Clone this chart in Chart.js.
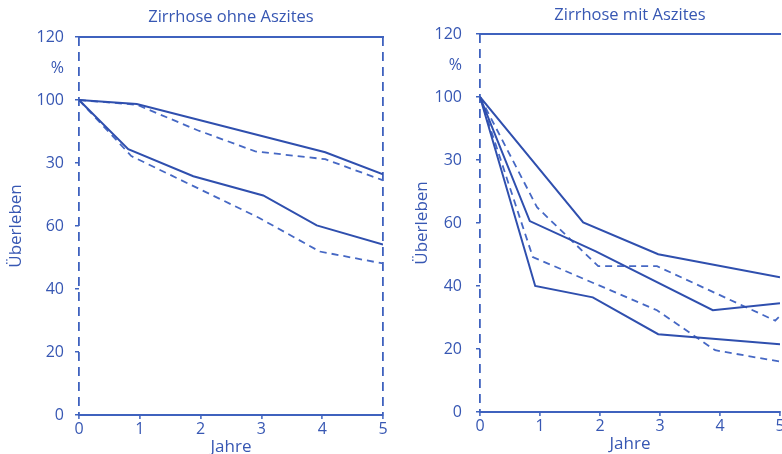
<!DOCTYPE html>
<html>
<head>
<meta charset="utf-8">
<script src="https://cdn.jsdelivr.net/npm/chart.js@4/dist/chart.umd.min.js"></script>
<style>
  html, body { margin: 0; padding: 0; background: #fff; overflow: hidden; }
  body { width: 782px; height: 454px; position: relative; }
  .panel { position: absolute; top: 0; height: 454px; }
  #leftWrap { left: 0; width: 390px; }
  #rightWrap { left: 390px; width: 392px; }
</style>
</head>
<body>
<div class="panel" id="leftWrap"><canvas id="left"></canvas></div>
<div class="panel" id="rightWrap"><canvas id="right"></canvas></div>
<script>
// ---- Data ----
const titleLeft = 'Zirrhose ohne Aszites';
const titleRight = 'Zirrhose mit Aszites';
const xTitle = 'Jahre';
const yTitle = 'Überleben';
const yTickValues = [0, 20, 40, 60, 80, 100, 110, 120];
const yTickLabels = ['0', '20', '40', '60', '30', '100', '%', '120'];
const xTickValues = [0, 1, 2, 3, 4, 5];

// Left panel: Zirrhose ohne Aszites
const leftSolidA_x  = [0, 0.95, 4.05, 5];
const leftSolidA_y  = [100, 98.7, 83.4, 76.4];
const leftDashedA_x = [0, 0.95, 1.95, 2.9, 4.05, 5];
const leftDashedA_y = [100, 98.5, 90.4, 83.7, 81.2, 74.5];
const leftSolidB_x  = [0, 0.81, 1.88, 3.03, 3.91, 5];
const leftSolidB_y  = [100, 84.4, 75.8, 69.7, 60.2, 54.1];
const leftDashedB_x = [0, 0.86, 2.95, 3.96, 5];
const leftDashedB_y = [100, 82.2, 62.7, 51.9, 48.1];

// Right panel: Zirrhose mit Aszites
const rightSolidA_x  = [0, 1.72, 2.97, 5];
const rightSolidA_y  = [100, 60.2, 50.1, 42.8];
const rightSolidB_x  = [0, 0.83, 1.93, 3.88, 5];
const rightSolidB_y  = [100, 60.6, 51, 32.3, 34.5];
const rightSolidC_x  = [0, 0.92, 1.88, 2.97, 5];
const rightSolidC_y  = [100, 40, 36.4, 24.7, 21.5];
const rightDashedA_x = [0, 0.95, 1.97, 2.95, 4.92, 5];
const rightDashedA_y = [100, 65, 46.3, 46.3, 29, 30.5];
const rightDashedB_x = [0, 0.88, 2.95, 3.92, 5];
const rightDashedB_y = [100, 49.2, 32.3, 19.6, 16];

// ---- Styles ----
const TEXT = '#3757b3';
const AXIS = '#3f62be';
const SOLID = '#2f4fae';
const DASHED = '#4668c4';
const FONT = "'Open Sans', sans-serif";

function pts(xs, ys) { return xs.map((x, i) => ({ x: x, y: ys[i] })); }
function ds(xs, ys, dashed) {
  return {
    data: pts(xs, ys),
    borderColor: dashed ? DASHED : SOLID,
    borderWidth: dashed ? 1.8 : 2,
    borderDash: dashed ? [7, 5] : [],
    pointRadius: 0,
    tension: 0,
    fill: false
  };
}

function makeChart(id, title, datasets, cfg) {
  const yLabelOf = v => { const i = yTickValues.indexOf(v); return i >= 0 ? yTickLabels[i] : ''; };
  const frameAt = cfg.frameValues;
  return new Chart(document.getElementById(id), {
    type: 'line',
    data: { datasets: datasets },
    options: {
      responsive: true, maintainAspectRatio: false, animation: false,
      layout: { padding: { left: 0, right: cfg.padRight, top: 0, bottom: 0 } },
      plugins: { legend: { display: false }, tooltip: { enabled: false }, title: { display: false } },
      scales: {
        x: {
          type: 'linear', position: 'bottom', min: 0, max: 5,
          afterBuildTicks: s => { s.ticks = xTickValues.map(v => ({ value: v })); },
          afterFit: s => { s.height = cfg.xHeight; s.paddingLeft = 0; s.paddingRight = 0; },
          grid: {
            drawOnChartArea: true, drawTicks: true, tickLength: 4, lineWidth: 1.8,
            color: c => (c.tick && frameAt.indexOf(c.tick.value) >= 0) ? AXIS : 'rgba(0,0,0,0)',
            tickColor: AXIS, tickWidth: 1.5
          },
          border: { display: true, color: AXIS, width: 2, dash: [9, 6] },
          ticks: { color: TEXT, font: { family: FONT, size: 16 }, padding: 1, maxRotation: 0, autoSkip: false },
          title: { display: true, text: xTitle, color: TEXT, font: { family: FONT, size: 17 }, padding: { top: 0, bottom: cfg.xTitlePad } }
        },
        xTop: {
          type: 'linear', position: 'top', min: 0, max: 5,
          afterFit: s => { s.height = cfg.top; s.paddingLeft = 0; s.paddingRight = 0; },
          grid: { display: false, drawTicks: false },
          border: { display: true, color: AXIS, width: 2 },
          ticks: { display: false },
          title: { display: true, text: title, color: TEXT, font: { family: FONT, size: 16.5 }, padding: { top: cfg.titlePad, bottom: 0 } }
        },
        y: {
          type: 'linear', position: 'left', min: 0, max: 120,
          afterBuildTicks: s => { s.ticks = yTickValues.map(v => ({ value: v })); },
          afterFit: s => { s.width = cfg.yWidth; },
          grid: {
            drawOnChartArea: false, drawTicks: true, tickLength: 4, lineWidth: 1.5,
            color: c => (c.tick && c.tick.value === 110) ? 'rgba(0,0,0,0)' : AXIS
          },
          border: { display: false },
          ticks: { color: TEXT, font: { family: FONT, size: 16 }, padding: cfg.yTickPad, autoSkip: false, callback: v => yLabelOf(v) },
          title: { display: true, text: yTitle, color: TEXT, font: { family: FONT, size: 17 }, padding: { top: cfg.yTitlePad, bottom: 0 } }
        }
      }
    }
  });
}

makeChart('left', titleLeft, [
  ds(leftSolidA_x, leftSolidA_y, false),
  ds(leftDashedA_x, leftDashedA_y, true),
  ds(leftSolidB_x, leftSolidB_y, false),
  ds(leftDashedB_x, leftDashedB_y, true)
], { top: 37, xHeight: 39, yWidth: 79, yTickPad: 11, yTitlePad: 6, titlePad: 7, xTitlePad: -3.5, frameValues: [0, 5], padRight: 7 });

makeChart('right', titleRight, [
  ds(rightSolidA_x, rightSolidA_y, false),
  ds(rightSolidB_x, rightSolidB_y, false),
  ds(rightSolidC_x, rightSolidC_y, false),
  ds(rightDashedA_x, rightDashedA_y, true),
  ds(rightDashedB_x, rightDashedB_y, true)
], { top: 34, xHeight: 42, yWidth: 90, yTickPad: 14, yTitlePad: 22, titlePad: 5, xTitlePad: -0.5, frameValues: [0], padRight: 2 });
</script>
</body>
</html>
